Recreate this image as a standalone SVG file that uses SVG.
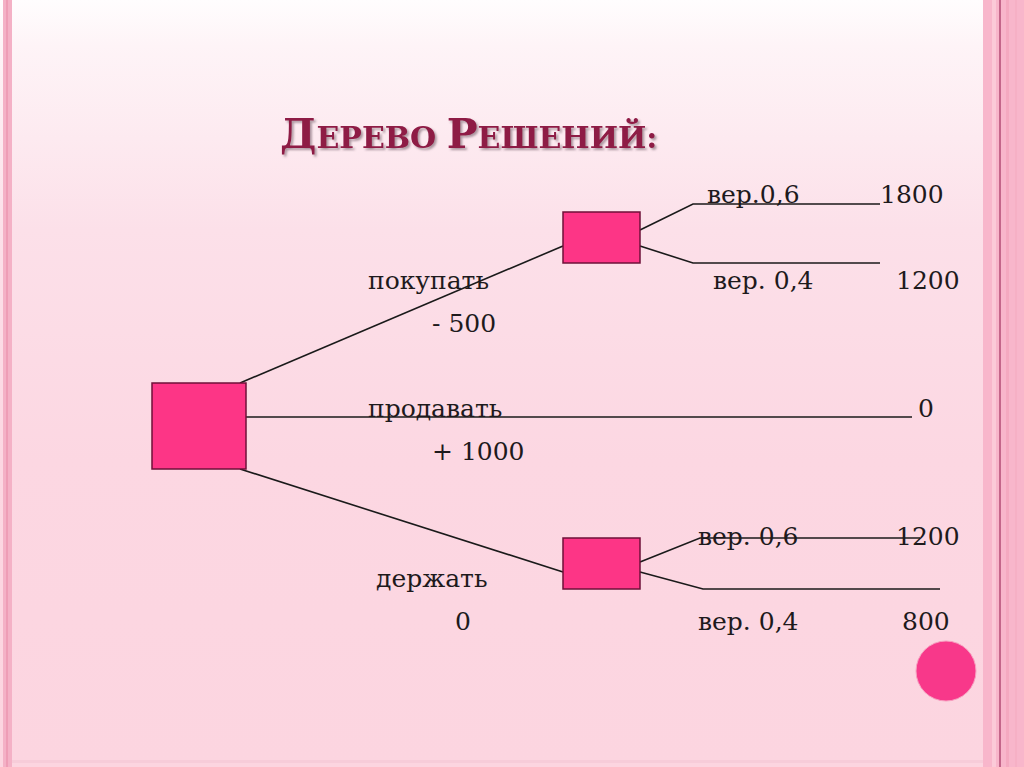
<svg xmlns="http://www.w3.org/2000/svg" width="1024" height="767" viewBox="0 0 1024 767">
<defs>
<linearGradient id="bg" x1="0" y1="0" x2="0" y2="1">
<stop offset="0" stop-color="#FFFDFE"/>
<stop offset="0.06" stop-color="#FEF4F7"/>
<stop offset="0.3" stop-color="#FCE0E9"/>
<stop offset="0.6" stop-color="#FCD7E2"/>
<stop offset="1" stop-color="#FCD5E0"/>
</linearGradient>
<filter id="sh" x="-5%" y="-20%" width="110%" height="150%">
<feDropShadow dx="2" dy="2" stdDeviation="1.2" flood-color="#5a4050" flood-opacity="0.5"/>
</filter>
<style>
.t{font-family:"DejaVu Serif","Liberation Serif",serif;font-size:25px;fill:#1e1a1c}
.title{font-family:"DejaVu Serif","Liberation Serif",serif;font-weight:bold;fill:#8E1A45}
.node{fill:#FD3586;stroke:#6E1038;stroke-width:1.5}
.edge{fill:none;stroke:#1a1a1a;stroke-width:1.6}
</style>
</defs>
<rect width="1024" height="767" fill="url(#bg)"/>
<rect x="3" y="0" width="9" height="767" fill="#F4B1C6"/>
<rect x="6" y="0" width="2" height="767" fill="#EE9DB6"/>
<rect x="983" y="0" width="41" height="767" fill="#F8B6CB"/>
<rect x="992" y="0" width="4" height="767" fill="#FBCAD8"/>
<rect x="999" y="0" width="2" height="767" fill="#C4668A"/>
<rect x="1006" y="0" width="3" height="767" fill="#F4A9C0"/>
<rect x="1015" y="0" width="2" height="767" fill="#F6B0C5"/>
<rect x="12" y="760" width="971" height="3" fill="#F7CCD9"/>

<text class="title" x="280" y="148" filter="url(#sh)"><tspan font-size="41">Д</tspan><tspan font-size="30">ЕРЕВО </tspan><tspan font-size="41">Р</tspan><tspan font-size="30">ЕШЕНИЙ:</tspan></text>

<g id="connectors">
<line class="edge" x1="240" y1="383" x2="563" y2="246"/>
<line class="edge" x1="246" y1="417" x2="912" y2="417"/>
<line class="edge" x1="240" y1="469" x2="563" y2="572"/>
<polyline class="edge" points="640,230 693,204 880,204"/>
<polyline class="edge" points="640,246 693,263 880,263"/>
<polyline class="edge" points="640,562 700,538 920,538"/>
<polyline class="edge" points="640,572 703,589 940,589"/>
</g>

<g id="root"><rect class="node" x="152" y="383" width="94" height="86"/></g>
<g id="buy"><rect class="node" x="563" y="212" width="77" height="51"/></g>
<g id="hold"><rect class="node" x="563" y="538" width="77" height="51"/></g>
<g id="marker"><circle cx="946" cy="671" r="30" fill="#F8388A" stroke="#F7A0C0" stroke-width="1"/></g>

<g id="labels">
<text class="t" x="368" y="289">покупать</text>
<text class="t" x="432" y="332">- 500</text>
<text class="t" x="368" y="417">продавать</text>
<text class="t" x="432" y="460">+ 1000</text>
<text class="t" x="376" y="587">держать</text>
<text class="t" x="455" y="630">0</text>
<text class="t" x="918" y="417">0</text>
<text class="t" x="707" y="203">вер.0,6</text>
<text class="t" x="880" y="203">1800</text>
<text class="t" x="713" y="289">вер. 0,4</text>
<text class="t" x="896" y="289">1200</text>
<text class="t" x="698" y="545">вер. 0,6</text>
<text class="t" x="896" y="545">1200</text>
<text class="t" x="698" y="630">вер. 0,4</text>
<text class="t" x="902" y="630">800</text>
</g>
</svg>
